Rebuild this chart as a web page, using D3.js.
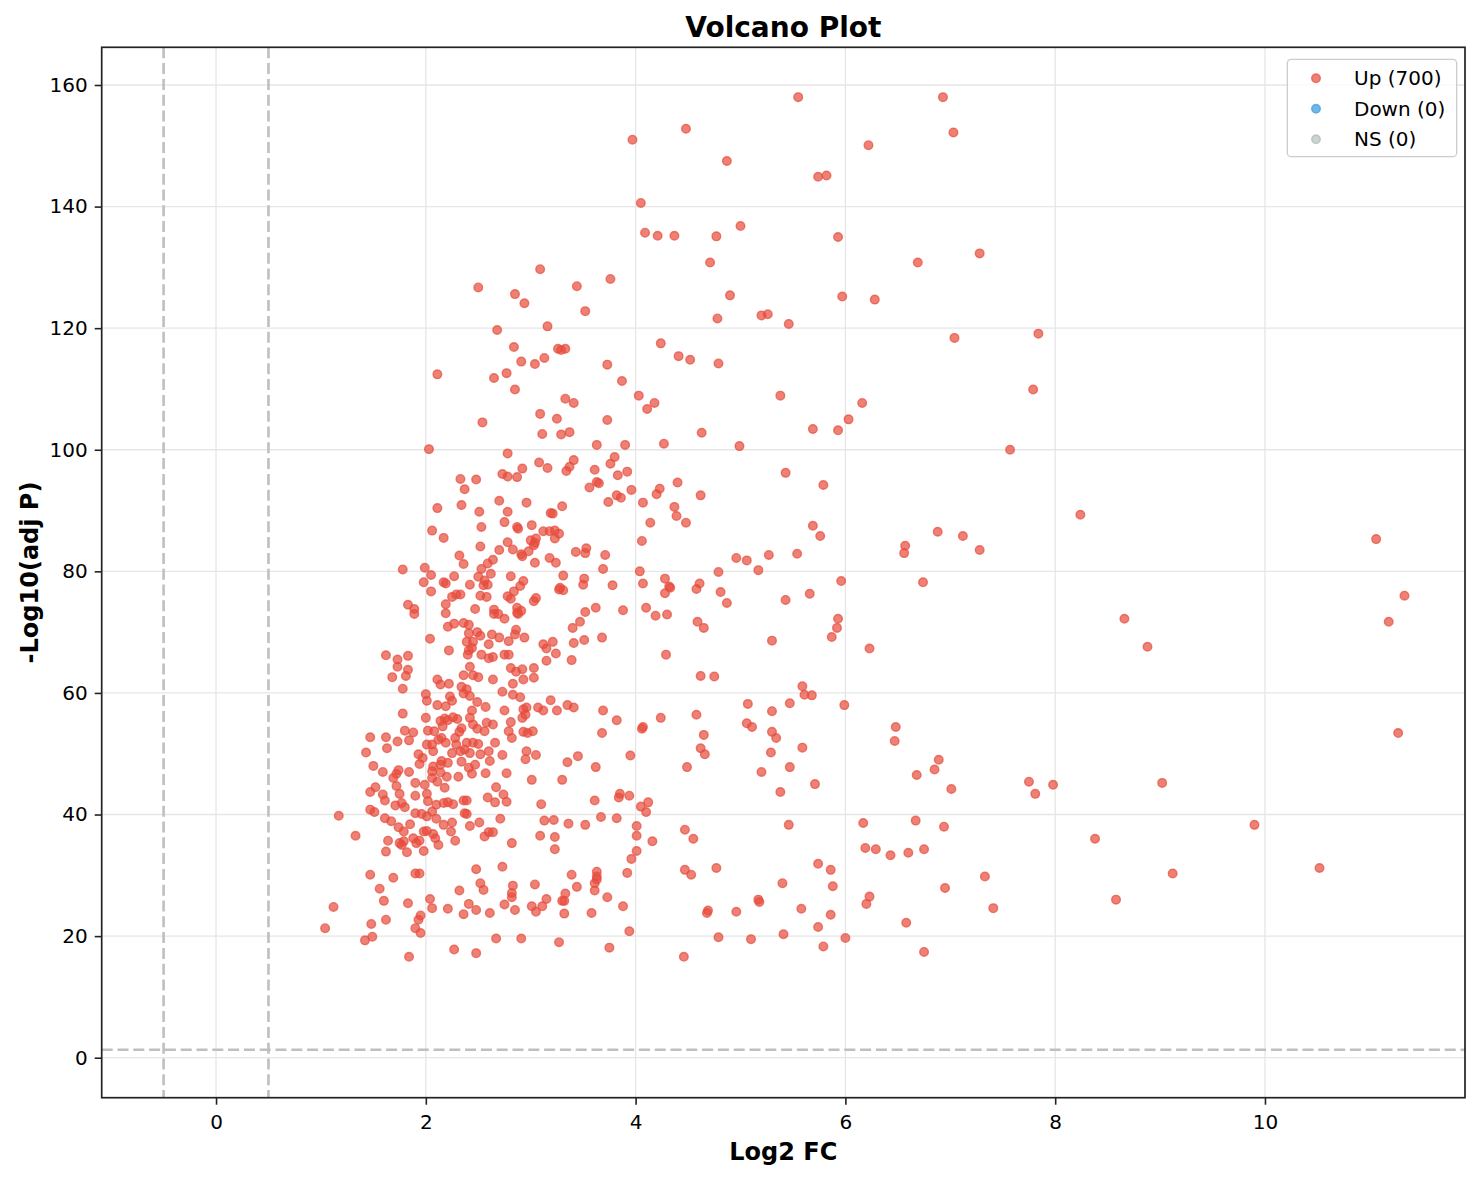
<!DOCTYPE html>
<html>
<head>
<meta charset="utf-8">
<script src="https://cdn.jsdelivr.net/npm/d3@7"></script>
<style>
  body { margin: 0; background: #fff; }
  svg { display: block; font-family: "DejaVu Sans", sans-serif; }
</style>
</head>
<body>
<script>
// Up-regulated genes: [log2 fold change, -log10 adjusted p]
const upPoints = [
    [3.97,151.0],[4.05,140.6],[4.48,152.8],[4.09,135.7],[4.21,135.2],[4.37,135.2],
    [5.55,158.0],[6.93,158.0],[7.03,152.2],[6.22,150.1],[4.87,147.5],[5.74,144.9],[5.82,145.1],[5.00,136.8],
    [4.77,135.1],[5.93,135.0],[4.71,130.8],[6.69,130.8],[7.28,132.3],[4.90,125.4],[5.97,125.2],[6.28,124.7],
    [4.78,121.6],[5.20,122.1],[5.26,122.3],[5.46,120.7],[7.04,118.4],[4.79,114.2],[5.38,108.9],[6.16,107.7],
    [2.50,126.7],[2.68,119.7],[2.11,112.4],[2.65,111.8],[2.77,112.6],[2.54,104.5],[2.03,100.1],[2.78,99.4],
    [2.33,95.2],[2.48,95.1],[2.73,96.0],[2.78,95.6],[2.37,93.5],
    [3.09,129.7],[3.44,126.9],[3.76,128.1],[2.85,125.6],[2.94,124.1],[3.52,122.8],[3.16,120.3],[4.24,117.5],
    [4.41,115.4],[4.52,114.8],[2.84,116.9],[3.26,116.6],[3.29,116.4],[3.33,116.6],[2.91,114.5],[3.04,114.1],
    [3.13,115.1],[3.73,114.0],[3.87,111.3],[2.85,109.9],[4.03,108.9],[4.18,107.7],[4.11,106.7],[3.33,108.4],
    [3.41,107.7],[3.09,105.9],[3.25,105.1],[3.73,104.9],[3.11,102.6],[3.29,102.5],[3.37,102.9],[4.63,102.8],
    [3.63,100.8],[3.90,100.8],[4.27,101.0],[3.08,97.9],[3.16,97.0],[3.41,98.3],[3.37,97.2],[3.34,96.5],
    [2.92,96.9],[2.87,95.5],[3.80,98.8],[3.76,97.7],[3.61,96.7],[3.83,95.8],[3.92,96.4],[3.63,94.7],
    [3.65,94.5],[3.56,93.8],[3.96,93.4],[4.23,93.6],[4.40,94.6],
    [2.11,90.4],[2.34,90.9],[2.51,89.8],[2.70,91.6],[2.06,86.7],[2.17,85.5],[2.53,87.3],[2.52,84.1],
    [2.70,83.5],[1.78,80.3],[1.99,80.6],[2.05,79.4],[1.98,78.2],[2.05,76.7],[2.32,82.6],[2.36,81.2],
    [2.27,79.2],[2.17,78.2],[2.19,78.0],[2.42,77.8],[2.53,80.4],[2.59,81.3],[2.64,81.9],[2.62,79.6],
    [2.50,79.1],[2.56,78.5],[2.59,77.8],[2.55,77.7],[2.25,75.8],[2.29,76.2],[2.33,76.2],[2.52,76.0],
    [2.58,75.8],[1.83,74.5],[1.89,73.8],[1.89,73.0],[2.19,74.6],[2.19,73.1],[2.47,73.8],[2.65,73.7],
    [2.65,73.0],[2.69,73.0],[2.21,70.9],[2.27,71.4],[2.36,71.5],[2.41,71.2],[2.41,69.8],[2.49,70.0],
    [2.52,69.4],[2.63,69.6],[2.04,68.9],[2.39,68.4],[2.45,68.4],[2.60,68.0],[2.22,67.0],[2.41,67.0],
    [2.44,67.4],[2.40,66.3],[2.53,66.3],[2.60,65.7],[2.64,65.9],[1.62,66.2],[1.73,65.5],[1.73,64.3],
    [1.83,66.1],[1.83,63.8],[1.81,62.8],[1.68,62.6],[1.78,60.7],[2.42,64.3],[2.36,62.9],[2.45,62.9],
    [2.50,62.6],[2.64,62.2],[2.11,62.2],[2.14,61.4],[2.22,61.5],[2.34,61.0],[2.39,60.6],[2.42,59.5],
    [2.36,59.9],[2.00,59.8],[2.01,58.7],[2.23,59.4],[2.25,58.7],[2.11,58.0],[2.19,57.8],[2.49,58.5],
    [2.57,57.7],[1.78,56.6],[2.00,55.9],[2.14,55.4],[2.18,55.8],[2.21,55.5],[2.26,56.0],[2.30,55.7],
    [2.44,57.1],[2.42,55.9],[2.58,55.1],[2.64,54.8],[2.16,54.5],
    [3.74,91.4],[3.82,92.5],[3.86,92.1],[4.20,92.7],[4.07,91.3],[4.62,92.5],[4.37,90.6],[4.39,89.1],
    [4.48,88.0],[4.14,88.0],[4.06,85.0],[2.96,91.3],[3.30,90.7],[2.78,89.8],[3.19,89.6],[3.21,89.5],
    [2.75,88.1],[2.87,87.3],[2.88,87.0],[3.01,87.6],[3.12,86.6],[3.18,86.6],[3.23,86.7],[3.27,86.2],
    [3.23,85.4],[3.00,85.1],[3.05,85.4],[3.03,84.3],[3.04,84.7],[2.78,84.8],[2.83,83.6],[2.91,82.8],
    [2.92,82.5],[2.98,83.3],[3.04,81.4],[3.18,82.2],[3.24,81.4],[3.43,83.2],[3.52,83.0],[3.53,83.8],
    [3.71,82.7],[3.69,80.4],[4.04,80.0],[4.07,78.0],[4.28,78.8],[4.32,77.5],[4.28,76.4],[4.33,77.3],
    [4.61,78.0],[4.58,77.1],[3.78,77.7],[2.81,79.2],[2.93,78.4],[2.90,77.6],[3.31,79.3],[3.51,78.8],
    [3.50,77.8],[3.28,77.3],[3.31,76.9],[3.27,77.0],[2.84,76.7],[2.78,75.9],[2.81,75.5],[3.05,75.6],
    [3.03,75.1],[2.75,72.2],[2.87,74.0],[2.87,73.2],[2.91,73.5],[2.88,73.0],[3.62,74.0],[3.52,73.3],
    [3.88,73.6],[4.10,74.0],[4.19,72.7],[4.30,72.9],[3.47,71.7],[3.40,70.7],[4.59,71.7],[4.65,70.7],
    [2.86,70.4],[2.85,69.6],[2.94,69.1],[2.70,69.1],[2.79,68.5],[3.12,68.0],[3.15,67.3],[3.21,68.4],
    [3.24,66.5],[3.41,68.2],[3.51,68.7],[3.68,69.1],[4.29,66.3],[2.75,66.3],[2.79,66.3],[3.15,65.3],
    [3.39,65.4],[2.81,64.1],[2.86,63.5],[2.92,63.9],[3.03,64.1],[2.93,62.2],[3.03,62.5],[2.83,61.5],
    [2.73,60.2],[2.83,59.7],[2.90,59.3],[4.62,62.8],[3.19,58.8],[3.35,58.0],[3.41,57.6],[2.75,57.1],
    [2.93,57.3],[2.96,57.6],[2.92,55.9],[2.95,56.4],[3.07,57.6],[3.12,57.1],[3.25,57.1],[3.69,57.1],
    [3.82,55.5],[4.24,55.9],[4.58,56.4],[2.81,55.2],[4.07,54.4],
    [1.47,52.7],[1.62,52.7],[1.73,52.0],[1.63,50.9],[1.80,53.8],[1.88,53.5],[1.84,52.2],[1.43,50.2],
    [1.50,48.0],[1.59,47.0],[1.69,46.0],[1.72,46.7],[1.74,47.3],[1.84,47.0],[1.72,44.7],[1.52,44.5],
    [1.47,43.7],[1.59,43.3],[1.61,42.3],[1.75,43.4],[1.77,41.9],[1.71,41.5],[1.80,41.2],[1.47,40.8],
    [1.51,40.4],[1.17,39.8],[1.33,36.5],[1.61,39.4],[1.67,38.9],[1.74,37.9],[1.79,37.2],[1.85,38.4],
    [1.64,35.7],[1.62,33.9],[1.75,35.3],[1.79,35.6],[1.77,35.0],[1.82,33.8],[1.88,36.1],[1.91,35.3],
    [1.94,35.7],[1.98,34.0],[1.98,37.2],[2.01,37.3],[2.07,36.8],[2.09,36.1],[2.12,35.0],[2.24,37.2],
    [2.28,35.7],[2.17,38.3],[2.25,38.7],[2.42,38.1],[2.51,38.7],[2.56,36.4],[2.60,37.1],[2.64,37.1],
    [1.90,40.2],[1.96,40.1],[2.01,39.7],[2.06,40.5],[2.10,39.3],[1.90,43.1],[2.01,43.4],[2.10,41.6],
    [2.02,42.2],[1.90,45.2],[1.99,44.9],[2.06,46.0],[2.11,45.4],[2.18,44.4],[2.20,46.2],[1.94,48.3],
    [1.97,49.3],[1.93,49.9],[2.07,47.9],[2.14,48.2],[2.15,48.8],[2.21,48.5],[2.06,47.1],[2.14,46.9],
    [2.01,51.5],[2.06,51.5],[2.07,50.4],[2.02,53.8],[2.08,53.7],[2.12,52.3],[2.15,52.6],[2.19,51.8],
    [2.25,50.1],[2.29,51.5],[2.33,50.4],[2.37,50.7],[2.28,52.6],[2.32,53.6],[2.34,54.2],[2.45,54.8],
    [2.49,54.1],[2.56,53.7],[2.39,51.8],[2.45,51.8],[2.50,51.6],[2.42,50.1],[2.52,49.9],[2.60,50.4],
    [2.66,51.8],[2.34,48.7],[2.41,47.7],[2.47,48.2],[2.61,48.8],[2.44,46.7],[2.31,46.2],[2.57,46.8],
    [2.67,44.5],[2.59,42.8],[2.66,42.0],[2.17,41.9],[2.21,42.0],[2.26,41.7],[2.36,42.3],[2.39,42.3],
    [2.37,40.2],[2.39,40.1],
    [1.47,30.1],[1.69,29.6],[1.90,30.3],[1.94,30.3],[1.56,27.8],[1.60,25.8],[1.83,25.4],[2.04,26.1],
    [2.06,24.6],[1.12,24.8],[1.04,21.3],[1.48,22.0],[1.62,22.7],[1.93,22.7],[1.95,23.4],[1.90,21.3],
    [1.95,20.5],[1.42,19.3],[1.49,19.9],[1.84,16.6],[2.21,24.5],[2.32,27.5],[2.36,23.6],[2.41,25.3],
    [2.48,24.3],[2.48,31.0],[2.52,28.7],[2.55,27.6],[2.61,23.8],[2.27,17.8],[2.48,17.2],[2.67,19.6],
    [3.68,53.4],[4.06,54.1],[4.65,53.1],[4.62,50.9],[4.66,49.9],[4.49,47.8],[2.79,53.7],[2.82,52.6],
    [2.93,53.6],[2.97,53.4],[3.02,53.7],[2.73,49.8],[2.96,50.4],[2.95,49.1],[3.05,49.8],[3.35,48.6],
    [3.45,49.6],[3.62,47.8],[3.95,49.7],[2.77,46.8],[3.01,45.7],[3.30,45.7],[2.74,43.3],[2.77,42.1],
    [3.10,41.7],[3.61,42.3],[3.85,43.4],[3.84,42.8],[3.94,43.1],[4.05,41.3],[4.12,42.0],[4.10,40.4],
    [2.71,39.3],[3.13,39.0],[3.22,39.1],[3.36,38.5],[3.52,38.3],[3.67,39.6],[3.82,39.4],[4.01,38.1],
    [4.01,36.5],[4.16,35.6],[4.47,37.5],[4.55,36.0],[3.09,36.5],[3.23,36.3],[2.82,35.3],[3.23,34.3],
    [4.01,34.0],[3.96,32.7],[2.73,31.4],[3.92,30.4],[4.47,30.9],[4.53,30.1],[3.39,30.1],[3.63,30.6],
    [3.63,29.8],[3.63,29.3],[3.61,28.7],[3.61,27.5],[2.83,28.3],[2.82,27.1],[2.82,26.4],[3.04,28.5],
    [3.44,28.1],[3.33,27.0],[3.30,25.8],[3.32,25.8],[3.15,26.1],[3.73,26.4],[3.88,24.9],[2.75,25.2],
    [2.85,24.3],[3.01,24.9],[3.05,24.0],[3.11,24.9],[3.32,23.7],[3.58,23.8],[3.94,20.8],[4.68,23.8],
    [2.91,19.6],[3.27,19.0],[3.75,18.1],[4.46,16.6],
    [6.03,105.0],[5.69,103.4],[5.93,103.2],[4.99,100.6],[5.43,96.2],[5.79,94.2],[5.69,87.5],[5.76,85.8],
    [6.88,86.5],[7.12,85.8],[6.57,84.2],[6.56,83.0],[7.28,83.5],[4.96,82.2],[5.06,81.8],[5.27,82.7],
    [5.54,82.9],[5.17,80.2],[4.79,79.9],[5.96,78.4],[6.74,78.2],[4.81,76.6],[4.87,74.8],[5.43,75.3],
    [5.66,76.3],[5.93,72.2],[5.92,70.7],[5.87,69.2],[5.30,68.6],[6.23,67.3],[4.75,62.7],[5.59,61.1],
    [5.61,59.7],[5.68,59.6],
    [5.07,58.2],[5.47,58.3],[5.99,58.0],[5.30,57.0],[5.06,55.0],[5.11,54.4],[5.30,53.6],[5.34,52.6],
    [5.59,51.0],[5.29,50.2],[6.48,54.4],[6.47,52.1],[6.89,49.0],[6.85,47.4],[6.68,46.5],[7.01,44.2],
    [5.47,47.8],[5.20,47.0],[5.71,45.0],[5.38,43.7],[5.46,38.3],[6.17,38.6],[6.67,39.0],[6.94,38.0],
    [6.19,34.5],[6.29,34.3],[6.43,33.3],[6.60,33.7],[6.75,34.3],[4.77,31.2],[5.74,31.9],[5.86,30.9],
    [5.88,28.2],[5.40,28.7],[7.33,29.8],[6.95,27.9],[6.23,26.5],[6.20,25.3],[7.41,24.6],[5.17,26.0],
    [5.18,25.6],[4.69,24.2],[4.96,24.0],[5.58,24.5],[5.86,23.5],[5.74,21.5],[6.58,22.2],[4.79,19.8],
    [5.10,19.5],[5.41,20.3],[6.00,19.7],[5.79,18.3],[6.75,17.4],
    [7.57,100.0],[7.79,109.9],[7.84,119.1],[8.24,89.3],[8.66,72.2],[8.88,67.6],[7.75,45.4],[7.81,43.4],
    [7.98,44.9],[8.38,36.0],[8.58,26.0],[9.02,45.2],[9.12,30.3],[9.90,38.3],[10.52,31.2],[11.06,85.3],
    [11.18,71.7],[11.33,76.0],[11.27,53.4]
];
const downPoints = [];
const nsPoints = [];

const legendLabels = ["Up (700)", "Down (0)", "NS (0)"];
const legendColors = ["#e74c3c", "#3498db", "#95a5a6"];
const legendAlpha = [0.7, 0.7, 0.5];

const xTicks = [0, 2, 4, 6, 8, 10];
const yTicks = [0, 20, 40, 60, 80, 100, 120, 140, 160];
const fcCutoffs = [-0.5, 0.5];
const pCutoff = 1.3;

// Sizes
const W = 1482, H = 1180;
const margin = {top: 47.3, right: 17, bottom: 82.3, left: 101.7};
const width = W - margin.left - margin.right;
const height = H - margin.top - margin.bottom;

const svg = d3.select("body").append("svg")
    .attr("width", W)
    .attr("height", H);

const g = svg.append("g")
    .attr("transform", "translate(" + margin.left + "," + margin.top + ")");

// Scales
const xScale = d3.scaleLinear().domain([-1.09, 11.907]).range([0, width]);
const yScale = d3.scaleLinear().domain([-6.58, 166.2]).range([height, 0]);

// Grid
g.append("g").selectAll("line")
    .data(xTicks)
    .enter().append("line")
    .attr("x1", d => xScale(d)).attr("x2", d => xScale(d))
    .attr("y1", 0).attr("y2", height)
    .attr("stroke", "#e6e6e6").attr("stroke-width", 1.3);

g.append("g").selectAll("line")
    .data(yTicks)
    .enter().append("line")
    .attr("x1", 0).attr("x2", width)
    .attr("y1", d => yScale(d)).attr("y2", d => yScale(d))
    .attr("stroke", "#e6e6e6").attr("stroke-width", 1.3);

// Threshold lines
g.selectAll(".vcut")
    .data(fcCutoffs)
    .enter().append("line")
    .attr("class", "vcut")
    .attr("x1", d => xScale(d)).attr("x2", d => xScale(d))
    .attr("y1", 0).attr("y2", height)
    .attr("stroke", "#bfbfbf").attr("stroke-width", 2.6)
    .attr("stroke-dasharray", "11,4.8");

g.append("line")
    .attr("x1", 0).attr("x2", width)
    .attr("y1", yScale(pCutoff)).attr("y2", yScale(pCutoff))
    .attr("stroke", "#bfbfbf").attr("stroke-width", 2.6)
    .attr("stroke-dasharray", "11,4.8");

// Points
function drawPoints(pts, color, alpha) {
    g.append("g").selectAll("circle")
        .data(pts)
        .enter().append("circle")
        .attr("cx", d => xScale(d[0]))
        .attr("cy", d => yScale(d[1]))
        .attr("r", 4.3)
        .attr("fill", color).attr("fill-opacity", alpha)
        .attr("stroke", color).attr("stroke-opacity", alpha)
        .attr("stroke-width", 1.4);
}
drawPoints(nsPoints, legendColors[2], legendAlpha[2]);
drawPoints(downPoints, legendColors[1], legendAlpha[1]);
drawPoints(upPoints, legendColors[0], legendAlpha[0]);

// Axes
const xAxis = g.append("g")
    .attr("transform", "translate(0," + height + ")")
    .call(d3.axisBottom(xScale).tickValues(xTicks).tickSize(7).tickPadding(10).tickSizeOuter(0));

const yAxis = g.append("g")
    .call(d3.axisLeft(yScale).tickValues(yTicks).tickSize(7).tickPadding(7).tickSizeOuter(0));

[xAxis, yAxis].forEach(function(ax) {
    ax.attr("font-family", "DejaVu Sans, sans-serif").attr("font-size", 20);
    ax.selectAll("text").attr("fill", "#000");
    ax.selectAll(".tick line").attr("stroke", "#222").attr("stroke-width", 1.6);
    ax.select(".domain").remove();
});

// Spines
g.append("rect")
    .attr("width", width).attr("height", height)
    .attr("fill", "none")
    .attr("stroke", "#222").attr("stroke-width", 1.7);

// Title and labels
svg.append("text")
    .attr("x", margin.left + width / 2)
    .attr("y", 37)
    .attr("text-anchor", "middle")
    .attr("font-size", 28).attr("font-weight", "bold")
    .text("Volcano Plot");

svg.append("text")
    .attr("x", margin.left + width / 2)
    .attr("y", 1160)
    .attr("text-anchor", "middle")
    .attr("font-size", 24).attr("font-weight", "bold")
    .text("Log2 FC");

svg.append("text")
    .attr("transform", "translate(38," + (margin.top + height / 2) + ") rotate(-90)")
    .attr("text-anchor", "middle")
    .attr("font-size", 24).attr("font-weight", "bold")
    .text("-Log10(adj P)");

// Legend
const lg = svg.append("g").attr("transform", "translate(1287.3,59.3)");
lg.append("rect")
    .attr("width", 169.4).attr("height", 97.4)
    .attr("rx", 4)
    .attr("fill", "#fff").attr("fill-opacity", 0.8)
    .attr("stroke", "#cccccc").attr("stroke-width", 1.3);

const items = lg.selectAll(".legend")
    .data(legendLabels)
    .enter().append("g")
    .attr("class", "legend")
    .attr("transform", (d, i) => "translate(0," + (19 + i * 30.5) + ")");

items.append("circle")
    .attr("cx", 28.7)
    .attr("r", 4.3)
    .attr("fill", (d, i) => legendColors[i]).attr("fill-opacity", (d, i) => legendAlpha[i])
    .attr("stroke", (d, i) => legendColors[i]).attr("stroke-opacity", (d, i) => legendAlpha[i])
    .attr("stroke-width", 1.4);

items.append("text")
    .attr("x", 66.7)
    .attr("dy", "0.35em")
    .attr("font-size", 20)
    .text(d => d);
</script>
</body>
</html>
